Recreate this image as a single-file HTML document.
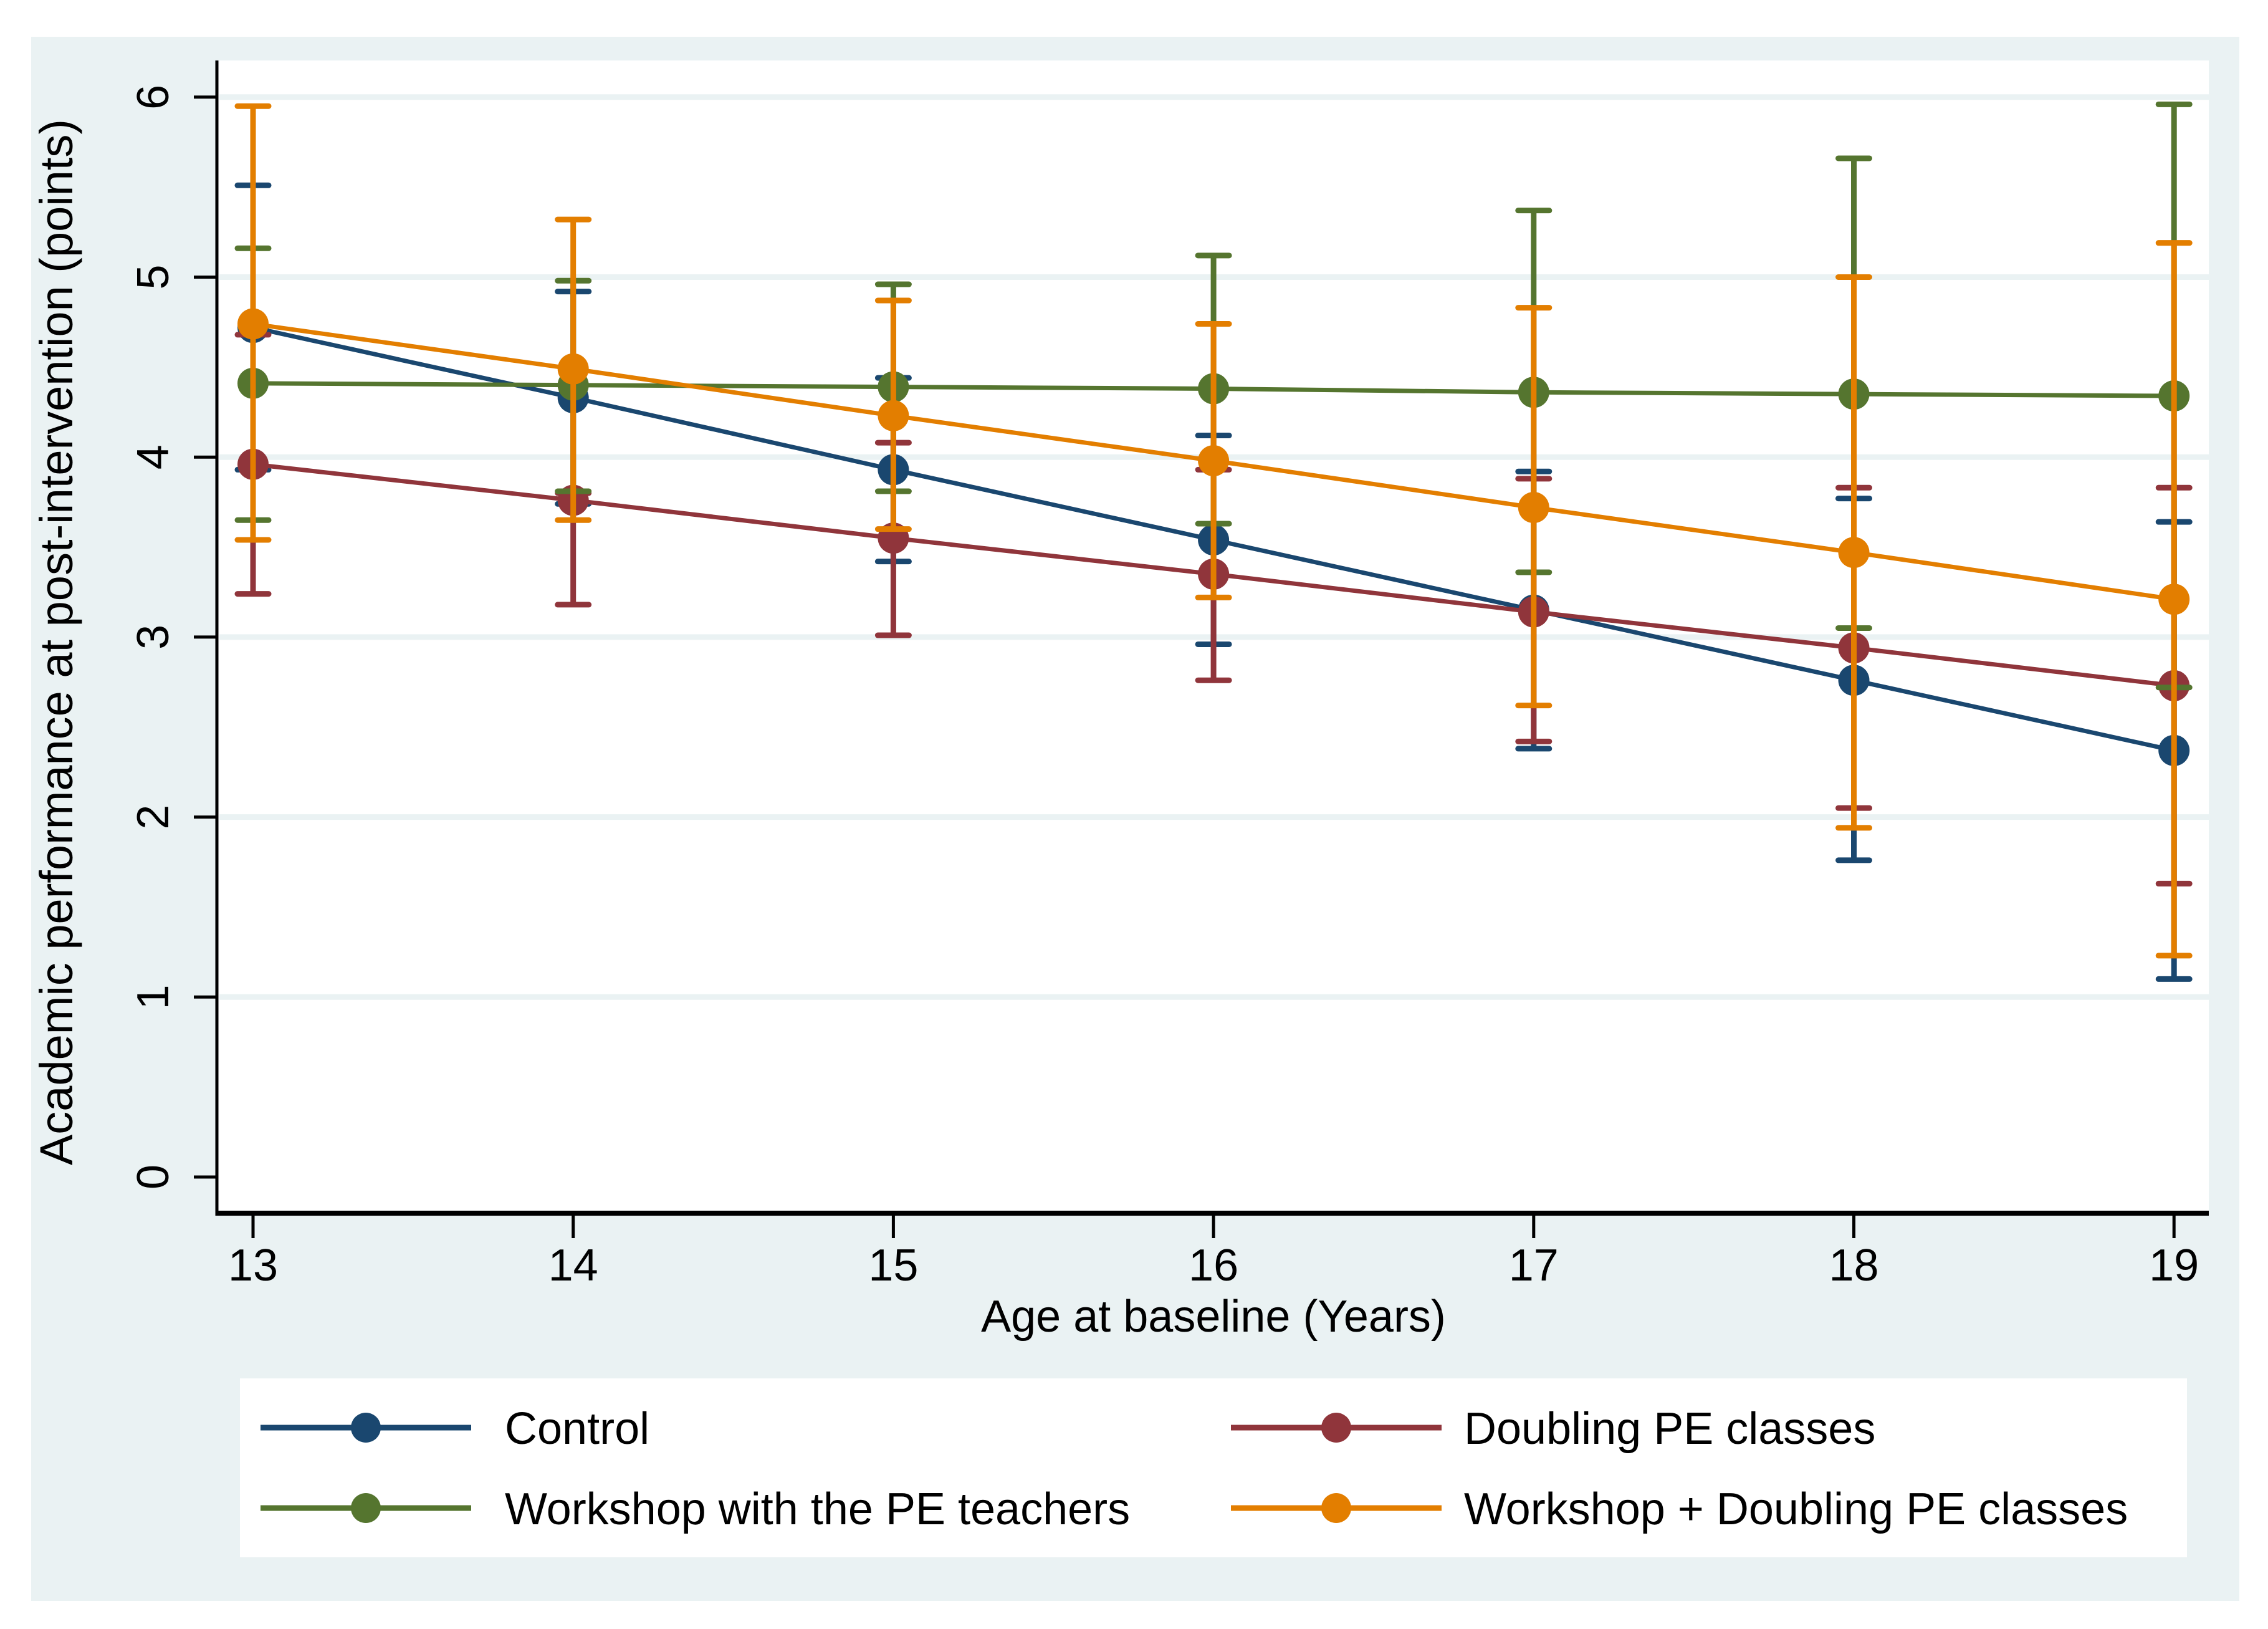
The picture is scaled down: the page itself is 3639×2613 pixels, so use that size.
<!DOCTYPE html>
<html><head><meta charset="utf-8"><style>
html,body{margin:0;padding:0;background:#fff}
svg{display:block}
text{font-family:"Liberation Sans",sans-serif;fill:#000}
</style></head><body>
<svg id="chart" width="3639" height="2613" viewBox="0 0 3639 2613" xmlns="http://www.w3.org/2000/svg">
<rect x="50" y="59" width="3543" height="2509" fill="#eaf2f3"/>
<rect x="348" y="97" width="3196" height="1849" fill="#ffffff"/>
<g id="grid"></g>
<g id="series"></g>
<line x1="348" y1="97" x2="348" y2="1950" stroke="#000" stroke-width="5"/>
<line x1="346" y1="1946" x2="3544" y2="1946" stroke="#000" stroke-width="8"/>
<g id="axes"></g>
<text x="1947" y="2136" font-size="72" text-anchor="middle">Age at baseline (Years)</text>
<text transform="translate(116,1030) rotate(-90)" font-size="74" text-anchor="middle">Academic performance at post-intervention (points)</text>
<rect x="385" y="2211" width="3124" height="287" fill="#ffffff"/>
<g id="legend"></g>
</svg>
<script>
const ages = [13,14,15,16,17,18,19];
const yTicks = [0,1,2,3,4,5,6];
const seriesNames = ["Control","Doubling PE classes","Workshop with the PE teachers","Workshop + Doubling PE classes"];
const seriesColors = ["#1a476f","#90353b","#55752f","#e37e00"];
const controlMean = [4.72,4.33,3.93,3.54,3.15,2.76,2.37];
const controlLo = [3.93,3.74,3.42,2.96,2.38,1.76,1.10];
const controlHi = [5.51,4.92,4.44,4.12,3.92,3.77,3.64];
const doublingMean = [3.96,3.76,3.55,3.35,3.14,2.94,2.73];
const doublingLo = [3.24,3.18,3.01,2.76,2.42,2.05,1.63];
const doublingHi = [4.68,3.80,4.08,3.93,3.88,3.83,3.83];
const workshopMean = [4.41,4.40,4.39,4.38,4.36,4.35,4.34];
const workshopLo = [3.65,3.81,3.81,3.63,3.36,3.05,2.72];
const workshopHi = [5.16,4.98,4.96,5.12,5.37,5.66,5.96];
const comboMean = [4.74,4.49,4.23,3.98,3.72,3.47,3.21];
const comboLo = [3.54,3.65,3.60,3.22,2.62,1.94,1.23];
const comboHi = [5.95,5.32,4.87,4.74,4.83,5.00,5.19];

const NS="http://www.w3.org/2000/svg";
const xS = a => 406 + (a-13)*513.7;
const yS = v => 1888 - v*288.7;
function mk(tag, attrs, parent){const e=document.createElementNS(NS,tag);for(const k in attrs)e.setAttribute(k,attrs[k]);parent.appendChild(e);return e;}
const grid=document.getElementById('grid'), axes=document.getElementById('axes'), ser=document.getElementById('series'), leg=document.getElementById('legend');

yTicks.forEach(t=>{
  if(t>0){const g=mk('line',{x1:352,x2:3544,y1:yS(t),y2:yS(t),stroke:'#eaf2f3','stroke-width':9},grid);
  
  }
  const tk=mk('line',{x1:311,x2:348,y1:yS(t),y2:yS(t),stroke:'#000','stroke-width':5},axes);
  
  
  const tx=mk('text',{transform:`translate(270,${yS(t)}) rotate(-90)`,'font-size':72,'text-anchor':'middle'},axes);
  tx.textContent=t;
  
  
});
ages.forEach(a=>{
  const tk=mk('line',{x1:xS(a),x2:xS(a),y1:1946,y2:1986,stroke:'#000','stroke-width':5},axes);
  
  
  const tx=mk('text',{x:xS(a),y:2054,'font-size':72,'text-anchor':'middle'},axes);
  tx.textContent=a;
  
  
});

const means=[controlMean,doublingMean,workshopMean,comboMean];
const los=[controlLo,doublingLo,workshopLo,comboLo];
const his=[controlHi,doublingHi,workshopHi,comboHi];
const keys=['control','doubling','workshop','combo'];
means.forEach((m,si)=>{
  const c=seriesColors[si];
  const g=mk('g',{},ser);
  
  
  ages.forEach((a,i)=>{
    const x=xS(a);
    const eb=mk('line',{x1:x,x2:x,y1:yS(los[si][i]),y2:yS(his[si][i]),stroke:c,'stroke-width':9},g);
    
    
    [los[si][i],his[si][i]].forEach(v=>{
      const cap=mk('line',{x1:x-25,x2:x+25,y1:yS(v),y2:yS(v),stroke:c,'stroke-width':9,'stroke-linecap':'round'},g);
      
      
    });
  });
  const pl=mk('polyline',{points:ages.map((a,i)=>xS(a)+','+yS(m[i])).join(' '),fill:'none',stroke:c,'stroke-width':7},g);
  
  
  ages.forEach((a,i)=>{
    const p=mk('circle',{cx:xS(a),cy:yS(m[i]),r:25,fill:c},g);
    
    
  });
});

const legPos=[[418,2290],[1975,2290],[418,2419],[1975,2419]];
seriesNames.forEach((n,si)=>{
  const [x,y]=legPos[si];
  const g=mk('g',{},leg);
  
  
  mk('line',{x1:x,x2:x+338,y1:y,y2:y,stroke:seriesColors[si],'stroke-width':9},g);
  mk('circle',{cx:x+169,cy:y,r:24,fill:seriesColors[si]},g);
  const t=mk('text',{x:x+(si%2===0?392:374),y:y+26,'font-size':72},g);
  t.textContent=n;
});
</script>
</body></html>
